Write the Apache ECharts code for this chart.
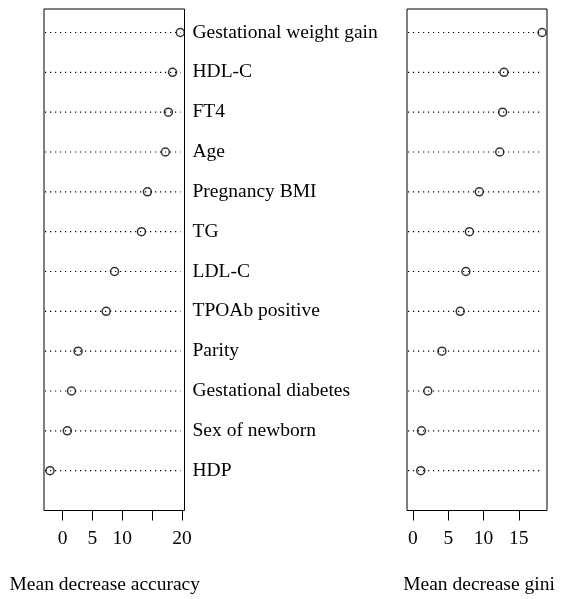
<!DOCTYPE html>
<html>
<head>
<meta charset="utf-8">
<script src="https://cdn.jsdelivr.net/npm/echarts@6/dist/echarts.min.js"></script>
<style>
html,body{margin:0;padding:0;background:#fff;}
#chart{width:563px;height:599px;}
</style>
</head>
<body>
<div id="chart"></div>
<script>
// Variables, top to bottom
const categories = ["Gestational weight gain","HDL-C","FT4","Age","Pregnancy BMI","TG","LDL-C","TPOAb positive","Parity","Gestational diabetes","Sex of newborn","HDP"];
const accuracyValues = [19.7, 18.4, 17.7, 17.2, 14.2, 13.2, 8.7, 7.3, 2.6, 1.5, 0.8, -2.1];
const giniValues = [18.3, 12.9, 12.7, 12.3, 9.4, 8.0, 7.5, 6.7, 4.1, 2.1, 1.2, 1.1];
const accuracyTicks = [0, 5, 10, 15, 20];
const accuracyTickLabels = [0, 5, 10, 20];
const giniTicks = [0, 5, 10, 15];
const giniTickLabels = [0, 5, 10, 15];

const n = categories.length;
const rowPositions = categories.map((c, i) => n - i);
const FONT = "Liberation Serif";
const FS = 19.5;

function pts(vals){ return vals.map((v, i) => [v, n - i]); }

function dotLine(params, api){
  const cs = params.coordSys;
  const y = api.coord([0, api.value(1)])[1];
  return {
    type: 'line',
    shape: {x1: cs.x + 1, y1: y, x2: cs.x + cs.width - 4, y2: y},
    style: {stroke: '#000', lineWidth: 1.2, lineDash: [1.2, 3.8]}
  };
}

const chart = echarts.init(document.getElementById('chart'), null, {renderer: 'canvas'});
const option = {
  backgroundColor: '#fff',
  animation: false,
  grid: [
    {left: 44, width: 140.5, top: 9, height: 501.5, show: true, borderColor: '#000', borderWidth: 1, backgroundColor: 'transparent', containLabel: false, outerBoundsMode: 'none'},
    {left: 407, width: 140, top: 9, height: 501.5, show: true, borderColor: '#000', borderWidth: 1, backgroundColor: 'transparent', containLabel: false, outerBoundsMode: 'none'}
  ],
  xAxis: [
    {
      type: 'value', gridIndex: 0, min: -3.1, max: 20.4,
      axisLine: {show: false},
      splitLine: {show: false},
      axisTick: {show: true, length: 10, customValues: accuracyTicks, lineStyle: {color: '#000', width: 1}},
      axisLabel: {customValues: accuracyTickLabels, margin: 18, color: '#000', fontFamily: FONT, fontSize: FS},
      name: 'Mean decrease accuracy', nameLocation: 'middle', nameGap: 64,
      nameTextStyle: {color: '#000', fontFamily: FONT, fontSize: FS, padding: [0, 19, 0, 0]}
    },
    {
      type: 'value', gridIndex: 1, min: -0.85, max: 19.0,
      axisLine: {show: false},
      splitLine: {show: false},
      axisTick: {show: true, length: 10, customValues: giniTicks, lineStyle: {color: '#000', width: 1}},
      axisLabel: {customValues: giniTickLabels, margin: 18, color: '#000', fontFamily: FONT, fontSize: FS},
      name: 'Mean decrease gini', nameLocation: 'middle', nameGap: 64,
      nameTextStyle: {color: '#000', fontFamily: FONT, fontSize: FS, padding: [0, 0, 0, 4]}
    }
  ],
  yAxis: [
    {
      type: 'value', gridIndex: 0, min: 0, max: 12.59, position: 'right',
      axisLine: {show: false}, axisTick: {show: false}, splitLine: {show: false},
      axisLabel: {
        customValues: rowPositions, margin: 8, color: '#000', fontFamily: FONT, fontSize: FS, align: 'left',
        formatter: v => { const i = n - Math.round(v); return (Math.abs(v - Math.round(v)) < 1e-6 && categories[i]) ? categories[i] : ''; }
      }
    },
    {
      type: 'value', gridIndex: 1, min: 0, max: 12.59,
      axisLine: {show: false}, axisTick: {show: false}, splitLine: {show: false},
      axisLabel: {show: false}
    }
  ],
  series: [
    {type: 'custom', xAxisIndex: 0, yAxisIndex: 0, renderItem: dotLine, data: pts(accuracyValues), silent: true, z: 1},
    {type: 'custom', xAxisIndex: 1, yAxisIndex: 1, renderItem: dotLine, data: pts(giniValues), silent: true, z: 1},
    {type: 'scatter', xAxisIndex: 0, yAxisIndex: 0, data: pts(accuracyValues), symbol: 'circle', symbolSize: 8,
     itemStyle: {color: 'rgba(0,0,0,0)', borderColor: '#000', borderWidth: 1.5}, z: 3},
    {type: 'scatter', xAxisIndex: 1, yAxisIndex: 1, data: pts(giniValues), symbol: 'circle', symbolSize: 8,
     itemStyle: {color: 'rgba(0,0,0,0)', borderColor: '#000', borderWidth: 1.5}, z: 3}
  ]
};
chart.setOption(option);
</script>
</body>
</html>
